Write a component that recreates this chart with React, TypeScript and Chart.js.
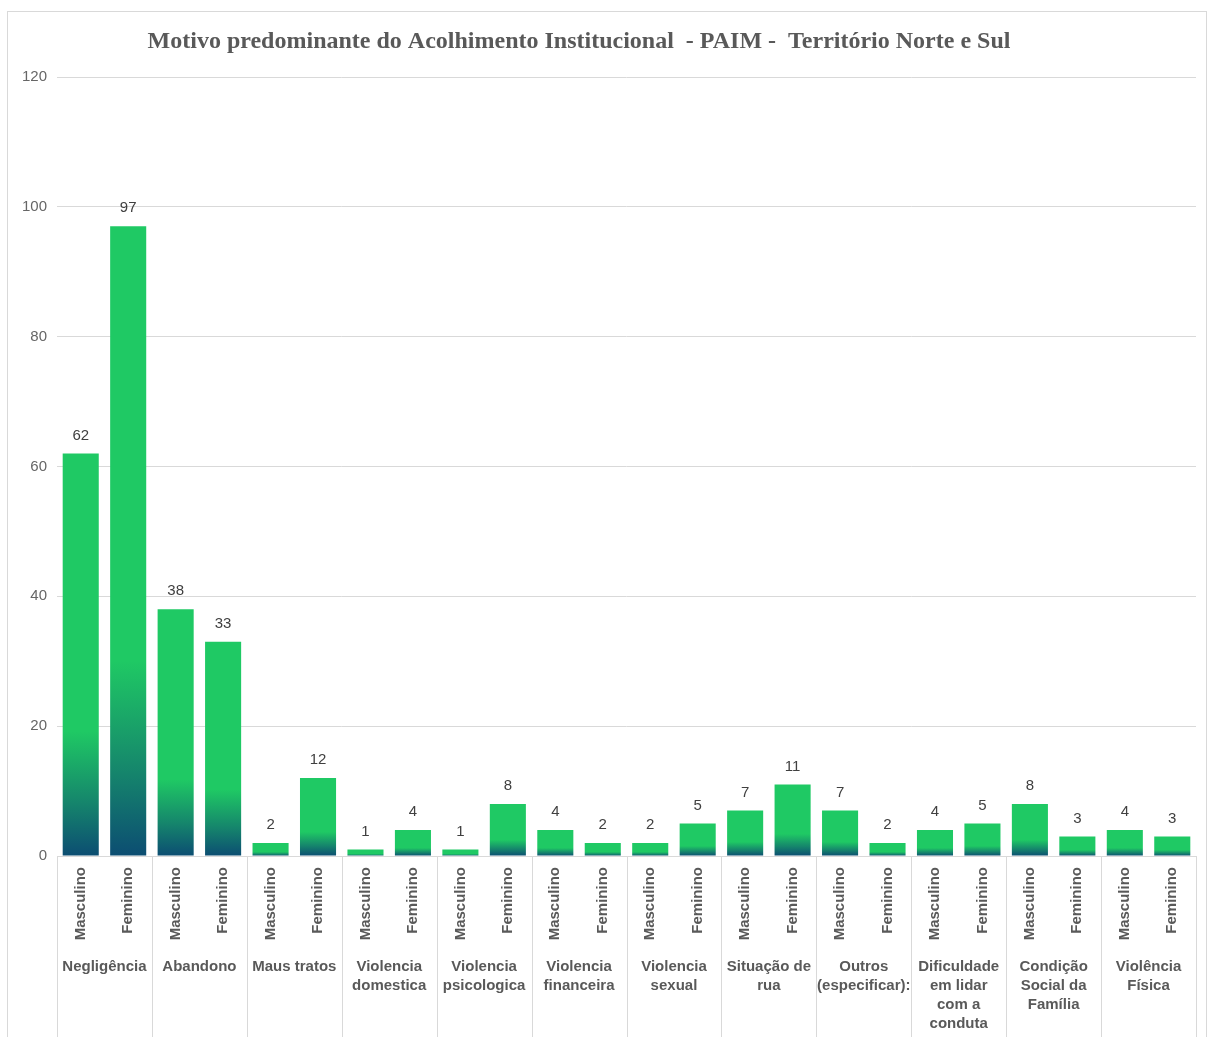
import React, { useEffect, useRef } from "react";
import { Chart, registerables } from "chart.js";

Chart.register(...registerables);

const TITLE = "Motivo predominante do Acolhimento Institucional  - PAIM -  Território Norte e Sul";
const genders = ["Masculino", "Feminino"];
const groups: string[][] = [
  ["Negligência"],
  ["Abandono"],
  ["Maus tratos"],
  ["Violencia", "domestica"],
  ["Violencia", "psicologica"],
  ["Violencia", "financeira"],
  ["Violencia", "sexual"],
  ["Situação de", "rua"],
  ["Outros", "(especificar):"],
  ["Dificuldade", "em lidar", "com a", "conduta"],
  ["Condição", "Social da", "Família"],
  ["Violência", "Física"],
];
const masculino = [62, 38, 2, 1, 1, 4, 2, 7, 7, 4, 8, 4];
const feminino = [97, 33, 12, 4, 8, 2, 5, 11, 2, 5, 3, 3];
const yMax = 120;
const yStep = 20;

const labels: string[] = groups.flatMap(() => genders);
const values: number[] = groups.flatMap((_, i) => [masculino[i], feminino[i]]);

const GREEN = "#1fc964";
const MID = "#15846c";
const DARK = "#0c4d72";
const GRID = "#d9d9d9";
const TEXT = "#595959";
const SANS = "'Liberation Sans', Arial, sans-serif";

const barColor = (c: any) => {
  const chart = c.chart;
  const y = chart.scales && chart.scales.y;
  if (!y || typeof c.raw !== "number") return GREEN;
  const top = y.getPixelForValue(c.raw);
  const base = y.getPixelForValue(0);
  if (!isFinite(top) || !isFinite(base) || base - top < 1) return GREEN;
  const g = chart.ctx.createLinearGradient(0, base, 0, top);
  g.addColorStop(0, DARK);
  g.addColorStop(0.13, MID);
  g.addColorStop(0.31, GREEN);
  g.addColorStop(1, GREEN);
  return g;
};

const decor = {
  id: "decor",
  beforeDraw(chart: any) {
    const ctx = chart.ctx;
    ctx.save();
    ctx.fillStyle = "#ffffff";
    ctx.fillRect(0, 0, chart.width, chart.height);
    ctx.strokeStyle = GRID;
    ctx.lineWidth = 1;
    ctx.strokeRect(7.5, 11.5, chart.width - 11, chart.height + 20);
    ctx.restore();
  },
  afterDatasetsDraw(chart: any) {
    const ctx = chart.ctx;
    const meta = chart.getDatasetMeta(0);
    ctx.save();
    ctx.font = `15px ${SANS}`;
    ctx.fillStyle = "#404040";
    ctx.textAlign = "center";
    ctx.textBaseline = "middle";
    meta.data.forEach((el: any, i: number) => {
      ctx.fillText(String(values[i]), el.x, el.y - 18);
    });
    ctx.restore();
  },
  afterDraw(chart: any) {
    const ctx = chart.ctx;
    const xs = chart.scales.x;
    const area = chart.chartArea;
    ctx.save();
    // separators
    ctx.strokeStyle = GRID;
    ctx.lineWidth = 1;
    const bounds: number[] = [];
    for (let i = 0; i <= groups.length; i++) {
      let b: number;
      if (i === 0) b = area.left;
      else if (i === groups.length) b = area.right;
      else b = (xs.getPixelForValue(2 * i - 1) + xs.getPixelForValue(2 * i)) / 2;
      bounds.push(b);
      const px = Math.round(b) + 0.5;
      ctx.beginPath();
      ctx.moveTo(px, area.bottom);
      ctx.lineTo(px, chart.height);
      ctx.stroke();
    }
    // group labels
    ctx.font = `bold 15px ${SANS}`;
    ctx.fillStyle = TEXT;
    ctx.textAlign = "center";
    ctx.textBaseline = "middle";
    groups.forEach((lines, i) => {
      const cx = (bounds[i] + bounds[i + 1]) / 2;
      lines.forEach((t, j) => {
        ctx.fillText(t, cx, area.bottom + 111 + j * 19);
      });
    });
    // title
    ctx.font = `bold 24px 'Liberation Serif', 'Times New Roman', serif`;
    ctx.fillStyle = TEXT;
    ctx.fillText(TITLE, 579, 42);
    ctx.restore();
  },
};

export default function App() {
  const ref = useRef<HTMLCanvasElement | null>(null);
  useEffect(() => {
    if (!ref.current) return;
    const chart = new Chart(ref.current, {
      type: "bar",
      data: {
        labels,
        datasets: [
          {
            data: values,
            backgroundColor: barColor,
            borderWidth: 0,
            barPercentage: 0.76,
            categoryPercentage: 1,
          },
        ],
      },
      options: {
        animation: false,
        responsive: false,
        maintainAspectRatio: false,
        layout: { padding: { top: 77, right: 14, left: 0, bottom: 0 } },
        plugins: {
          legend: { display: false },
          title: { display: false },
          tooltip: { enabled: false },
        },
        scales: {
          x: {
            grid: { display: false },
            border: { display: true, color: GRID },
            ticks: {
              autoSkip: false,
              minRotation: 90,
              maxRotation: 90,
              padding: 3,
              color: TEXT,
              font: { size: 15, weight: "bold", family: SANS },
            },
            afterFit: (s: any) => {
              s.height = 181;
            },
          },
          y: {
            min: 0,
            max: yMax,
            grid: { color: GRID, drawTicks: false },
            border: { display: false },
            ticks: {
              stepSize: yStep,
              padding: 10,
              color: "#666666",
              font: { size: 15, family: SANS },
            },
            afterFit: (s: any) => {
              s.width = 57;
            },
          },
        },
      },
      plugins: [decor],
    });
    return () => chart.destroy();
  }, []);
  return (
    <div style={{ position: "absolute", left: 0, top: 0, width: 1210, height: 1037 }}>
      <canvas ref={ref} width={1210} height={1037} style={{ display: "block" }} />
    </div>
  );
}
